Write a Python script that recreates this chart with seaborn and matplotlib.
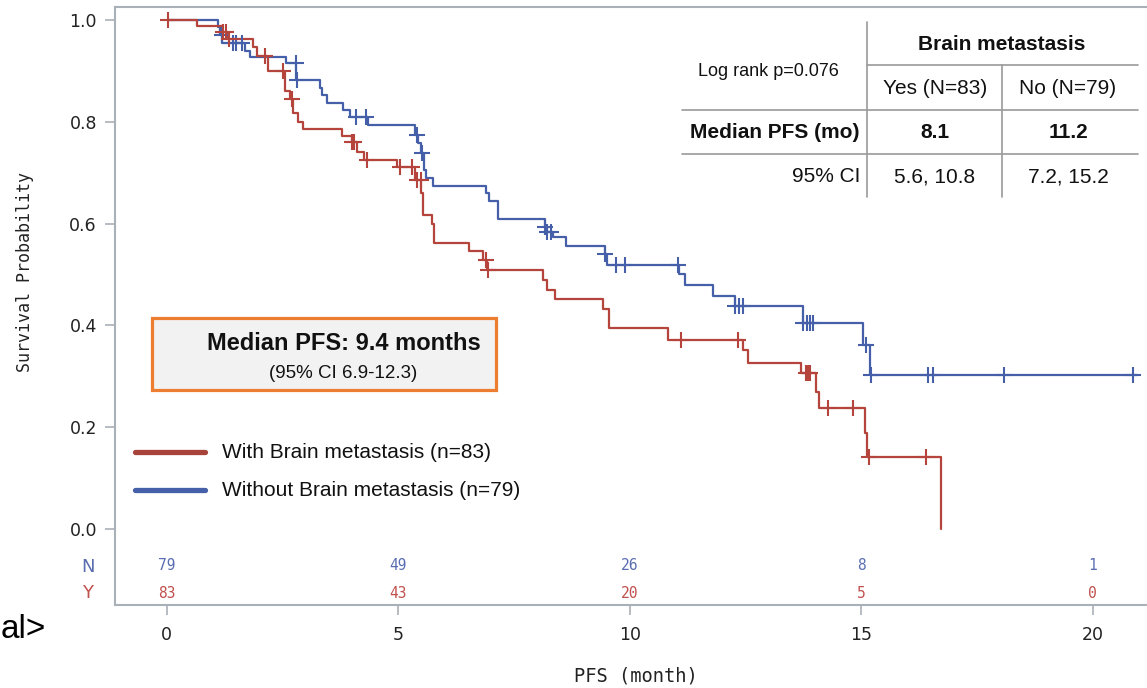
import numpy as np
import pandas as pd
import matplotlib
matplotlib.use("Agg")
import matplotlib.pyplot as plt
import seaborn as sns
from matplotlib.lines import Line2D
from matplotlib.patches import Rectangle

# ---------------- data ----------------
# With brain metastasis (Y) – step times / survival after each step
yes_t = [0, 0.65, 1.2, 1.3, 1.86, 1.95, 2.18, 2.55, 2.66, 2.72, 2.84, 2.95, 3.78, 4.0, 4.1, 4.25,
         4.97, 5.36, 5.5, 5.53, 5.73, 5.77, 6.52, 6.83, 6.92, 8.12, 8.2, 8.38, 9.42, 9.55, 10.82,
         12.45, 12.55, 13.7, 14.03, 14.08, 15.08, 15.12, 16.72]
yes_s = [1.0, 0.988, 0.976, 0.962, 0.947, 0.93, 0.90, 0.86, 0.845, 0.817, 0.80, 0.786, 0.772, 0.76, 0.74, 0.725,
         0.711, 0.686, 0.66, 0.617, 0.60, 0.562, 0.547, 0.528, 0.508, 0.489, 0.47, 0.452, 0.432, 0.395, 0.371,
         0.352, 0.327, 0.306, 0.27, 0.238, 0.189, 0.141, 0.0]
yes_cens = [0.02, 1.22, 1.27, 1.35, 2.12, 2.5, 2.7, 4.0, 4.05, 4.32, 5.03, 5.3, 5.4, 5.48, 6.89, 6.94,
            11.1, 12.33, 13.8, 13.85, 13.9, 14.28, 14.82, 15.16, 16.4]

# Without brain metastasis (N)
no_t = [0, 1.1, 1.15, 1.2, 1.68, 1.8, 2.58, 2.8, 3.3, 3.35, 3.46, 3.8, 3.95, 4.35, 5.36, 5.42, 5.5, 5.55,
        5.6, 5.75, 6.9, 6.95, 7.15, 8.16, 8.2, 8.35, 8.63, 9.46, 9.5, 11.06, 11.2, 11.8, 12.27, 13.74,
        15.03, 15.18, 20.95]
no_s = [1.0, 0.986, 0.97, 0.955, 0.94, 0.927, 0.916, 0.882, 0.866, 0.853, 0.837, 0.823, 0.809, 0.794, 0.774,
        0.758, 0.738, 0.705, 0.69, 0.674, 0.66, 0.645, 0.609, 0.593, 0.583, 0.574, 0.556, 0.54, 0.519,
        0.501, 0.479, 0.458, 0.438, 0.405, 0.361, 0.303, 0.303]
no_cens = [1.19, 1.43, 1.49, 1.62, 2.78, 2.82, 4.08, 4.3, 5.4, 5.52, 8.16, 8.22, 8.3, 9.47, 9.71, 9.9,
           11.05, 12.27, 12.35, 12.44, 13.74, 13.82, 13.9, 13.96, 15.1, 15.2, 16.44, 16.54, 18.08, 20.86]

risk_times = [0, 5, 10, 15, 20]
risk_no = [79, 49, 26, 8, 1]
risk_yes = [83, 43, 20, 5, 0]

xticks = [0, 5, 10, 15, 20]
yticks = [0.0, 0.2, 0.4, 0.6, 0.8, 1.0]

# ---------------- style ----------------
sns.set_theme(style="white")
plt.rcParams['font.family'] = ['DejaVu Sans']

RED = '#B5443C'
BLUE = '#4560A8'
RED_T = '#C0504D'
BLUE_T = '#5A6DB2'
SPINE = '#A9B0B7'
SANS = ['Liberation Sans', 'DejaVu Sans']
MONO = ['DejaVu Sans Mono']

W, H = 1147, 688
fx = lambda px: px / W
fy = lambda py: 1 - py / H

fig = plt.figure(figsize=(W / 100, H / 100), dpi=100)
ax = fig.add_axes([fx(115), fy(605), 1 - fx(115), (605 - 7) / H])

df_yes = pd.DataFrame({'t': yes_t, 's': yes_s})
df_no = pd.DataFrame({'t': no_t, 's': no_s})

sns.lineplot(data=df_no, x='t', y='s', ax=ax, color=BLUE, lw=1.6, drawstyle='steps-post',
             estimator=None, sort=False)
sns.lineplot(data=df_yes, x='t', y='s', ax=ax, color=RED, lw=1.6, drawstyle='steps-post',
             estimator=None, sort=False)

def surv_at(times, surv, c):
    idx = np.searchsorted(np.array(times), np.array(c), side='right') - 1
    return np.array(surv)[idx]

ax.plot(no_cens, surv_at(no_t, no_s, no_cens), ls='none', marker='+', ms=12, mew=1.5, color=BLUE)
ax.plot(yes_cens, surv_at(yes_t, yes_s, yes_cens), ls='none', marker='+', ms=12, mew=1.5, color=RED)

ax.set_xlim(-1.12, 21.17)
ax.set_ylim(-0.149, 1.0255)
ax.set_xticks(xticks)
ax.set_xticklabels([str(v) for v in xticks])
ax.set_yticks(yticks)
ax.set_yticklabels([f"{v:.1f}" for v in yticks])
ax.set_xlabel('')
ax.set_ylabel('')
ax.tick_params(axis='both', direction='out', length=7, width=1.2, color=SPINE,
               labelsize=12.5, labelcolor='#222222', bottom=True, left=True)
ax.tick_params(axis='y', pad=6)
ax.tick_params(axis='x', pad=8)
for side in ['left', 'bottom', 'top']:
    ax.spines[side].set_color(SPINE)
    ax.spines[side].set_linewidth(1.5)
ax.spines['right'].set_visible(False)

# axis labels
fig.text(fx(636), fy(676), 'PFS (month)', ha='center', va='center', fontsize=13.5,
         color='#222222', family=MONO)
fig.text(fx(25), fy(272), 'Survival Probability', ha='center', va='center', rotation=90,
         fontsize=12, color='#222222', family=MONO)

# numbers at risk
for t, n in zip(risk_times, risk_no):
    ax.text(t, -0.0707, str(n), ha='center', va='center', fontsize=10.5, color=BLUE_T, family=MONO)
for t, n in zip(risk_times, risk_yes):
    ax.text(t, -0.126, str(n), ha='center', va='center', fontsize=10.5, color=RED_T, family=MONO)
fig.text(fx(88), fy(567), 'N', ha='center', va='center', fontsize=13, color=BLUE_T)
fig.text(fx(88), fy(593), 'Y', ha='center', va='center', fontsize=13, color=RED_T)

# stray text
fig.text(fx(1), fy(638), 'al>', ha='left', va='baseline', fontsize=24, color='black', family=SANS)

# legend-like key
fig.add_artist(Line2D([fx(135), fx(205)], [fy(452), fy(452)], color='#A8433C', lw=3.8,
                      transform=fig.transFigure))
fig.add_artist(Line2D([fx(135), fx(205)], [fy(490), fy(490)], color='#4560A8', lw=3.8,
                      transform=fig.transFigure))
fig.text(fx(222), fy(452), 'With Brain metastasis (n=83)', ha='left', va='center', fontsize=15,
         color='#111111', family=SANS)
fig.text(fx(222), fy(490), 'Without Brain metastasis (n=79)', ha='left', va='center', fontsize=15,
         color='#111111', family=SANS)

# median box
fig.add_artist(Rectangle((fx(152), fy(390)), fx(496) - fx(152), fy(318) - fy(390),
                         transform=fig.transFigure, facecolor='#F2F2F2', edgecolor='#ED7D31', lw=2.3))
fig.text(fx(344), fy(343), 'Median PFS: 9.4 months', ha='center', va='center', fontsize=17,
         fontweight='bold', color='#111111', family=SANS)
fig.text(fx(343), fy(373), '(95% CI 6.9-12.3)', ha='center', va='center', fontsize=13.5,
         color='#111111', family=SANS)

# summary table
TL = '#9A9A9A'
def hline(x0, x1, y):
    fig.add_artist(Line2D([fx(x0), fx(x1)], [fy(y), fy(y)], color=TL, lw=1.2, transform=fig.transFigure))
def vline(x, y0, y1):
    fig.add_artist(Line2D([fx(x), fx(x)], [fy(y0), fy(y1)], color=TL, lw=1.2, transform=fig.transFigure))
vline(867, 22, 197)
vline(1002, 65, 197)
hline(867, 1138, 65)
hline(682, 1138, 110)
hline(682, 1138, 154)

fig.text(fx(1002), fy(45), 'Brain metastasis', ha='center', va='center', fontsize=15,
         fontweight='bold', color='#111111', family=SANS)
fig.text(fx(768), fy(72), 'Log rank p=0.076', ha='center', va='center', fontsize=13,
         color='#111111', family=SANS)
fig.text(fx(935), fy(89), 'Yes (N=83)', ha='center', va='center', fontsize=15, color='#111111', family=SANS)
fig.text(fx(1068), fy(89), 'No (N=79)', ha='center', va='center', fontsize=15, color='#111111', family=SANS)
fig.text(fx(860), fy(132), 'Median PFS (mo)', ha='right', va='center', fontsize=15, fontweight='bold',
         color='#111111', family=SANS)
fig.text(fx(935), fy(132), '8.1', ha='center', va='center', fontsize=15, fontweight='bold',
         color='#111111', family=SANS)
fig.text(fx(1068), fy(132), '11.2', ha='center', va='center', fontsize=15, fontweight='bold',
         color='#111111', family=SANS)
fig.text(fx(860), fy(177), '95% CI', ha='right', va='center', fontsize=15, color='#111111', family=SANS)
fig.text(fx(935), fy(177), '5.6, 10.8', ha='center', va='center', fontsize=15, color='#111111', family=SANS)
fig.text(fx(1068), fy(177), '7.2, 15.2', ha='center', va='center', fontsize=15, color='#111111', family=SANS)

fig.savefig('out.png', dpi=100)
